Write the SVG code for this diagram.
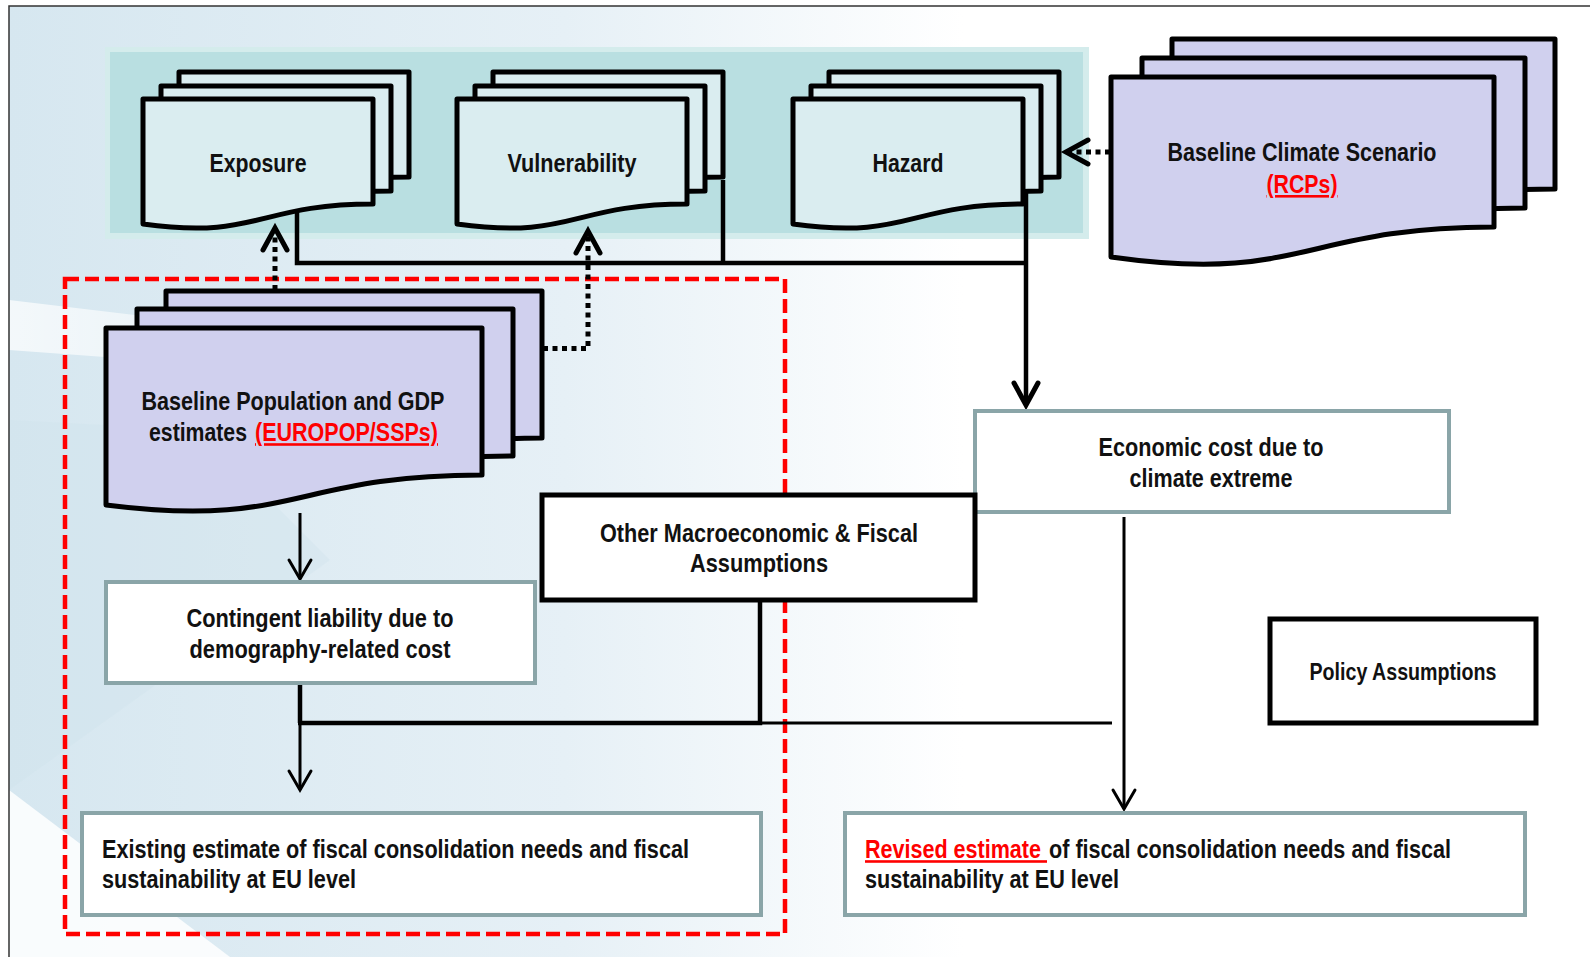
<svg xmlns="http://www.w3.org/2000/svg" xmlns:xlink="http://www.w3.org/1999/xlink" width="1590" height="957" viewBox="0 0 1590 957">
  <style>
    .t { font-family: "Liberation Sans Narrow", "Arial Narrow", "Liberation Sans", sans-serif; font-weight: bold; font-size: 26px; fill: #111; }
    .s { font-size: 21.3px; }
    .c { text-anchor: middle; }
    .red { fill: #ff0000; text-decoration: underline; }
    .docT { fill: #daedf0; stroke: #000; stroke-width: 5; stroke-linejoin: round; }
    .docL { fill: #d0d0ee; stroke: #000; stroke-width: 5; stroke-linejoin: round; }
    .boxG { fill: #fff; stroke: #8aa5a8; stroke-width: 4; }
    .boxK { fill: #fff; stroke: #000; stroke-width: 5; }
    .ln { fill: none; stroke: #000; stroke-linejoin: miter; }
    .thick { stroke-width: 4.5; }
    .thin { stroke-width: 3; }
    .dot { fill: none; stroke: #000; stroke-width: 5; stroke-dasharray: 5 4.5; }
  </style>
  <defs>
    <linearGradient id="bg" x1="0" y1="0" x2="1" y2="0">
      <stop offset="0" stop-color="#d6e7f0"/>
      <stop offset="0.35" stop-color="#e6f0f6"/>
      <stop offset="0.6" stop-color="#ffffff"/>
    </linearGradient>
    <linearGradient id="band" x1="0" y1="0" x2="1" y2="0">
      <stop offset="0" stop-color="#ffffff" stop-opacity="0.9"/>
      <stop offset="1" stop-color="#ffffff" stop-opacity="0"/>
    </linearGradient>
    <filter id="shadow" x="-10%" y="-200%" width="120%" height="500%">
      <feDropShadow dx="2" dy="3" stdDeviation="2" flood-color="#000" flood-opacity="0.35"/>
    </filter>
    <path id="dT" d="M0,0 H230 V105 C115,105 115,141 0,125 Z"/>
    <path id="dBCS" d="M0,0 H383 V150 C191.5,150 191.5,207 0,180 Z"/>
    <path id="dBPG" d="M0,0 H376 V147 C188,147 188,201 0,177 Z"/>
    <marker id="aBig" markerUnits="userSpaceOnUse" markerWidth="40" markerHeight="40" viewBox="-30 -20 40 40" refX="0" refY="0" orient="auto" overflow="visible">
      <path d="M-22,-12 L0,0 L-22,12" fill="none" stroke="#000" stroke-width="5" stroke-linecap="round" stroke-linejoin="miter"/>
    </marker>
    <marker id="aThin" markerUnits="userSpaceOnUse" markerWidth="40" markerHeight="40" viewBox="-30 -20 40 40" refX="0" refY="0" orient="auto" overflow="visible">
      <path d="M-19,-11 L0,0 L-19,11" fill="none" stroke="#000" stroke-width="3" stroke-linecap="round"/>
    </marker>
  </defs>

  <!-- background -->
  <rect x="0" y="0" width="1590" height="957" fill="#ffffff"/>
  <rect x="9" y="6" width="1590" height="960" fill="url(#bg)"/>
  <polygon points="9,300 260,330 560,390 9,350" fill="url(#band)" opacity="0.8"/>
  <polygon points="9,420 200,430 330,560 9,790" fill="#cfe2ec" opacity="0.35"/>
  <polygon points="9,790 9,957 230,957" fill="#ffffff" opacity="0.85"/>
  <path d="M9,957 V6 H1590" fill="none" stroke="#333" stroke-width="1.5"/>

  <!-- teal band -->
  <rect x="105" y="47" width="984" height="192" fill="#d4ecec"/>
  <rect x="110" y="52" width="973" height="181" fill="#b9dfe1"/>

  <!-- red dashed group -->
  <rect x="65" y="279" width="720" height="655" fill="none" stroke="#ff0000" stroke-width="4.5" stroke-dasharray="14 6"/>

  <!-- connectors -->
  <g id="connectors">
    <polyline class="ln thick" points="297,208 297,263 1026,263"/>
    <line class="ln thick" x1="723" y1="180" x2="723" y2="263"/>
    <line class="ln thick" x1="1026" y1="192" x2="1026" y2="405" marker-end="url(#aBig)"/>
    <line class="dot" x1="1110" y1="152" x2="1066" y2="152" marker-end="url(#aBig)"/>
    <line class="dot" x1="275" y1="290" x2="275" y2="228" marker-end="url(#aBig)"/>
    <polyline class="dot" points="543,348.5 588,348.5 588,231" marker-end="url(#aBig)"/>
    <line class="ln thin" x1="300" y1="513" x2="300" y2="579" marker-end="url(#aThin)"/>
    <line class="ln thick" x1="300" y1="683" x2="300" y2="723"/>
    <line class="ln thin" x1="300" y1="723" x2="300" y2="790" marker-end="url(#aThin)"/>
    <polyline class="ln thick" points="760,600 760,723 298,723"/>
    <line class="ln thin" x1="760" y1="723" x2="1112" y2="723"/>
    <line class="ln thin" x1="1124" y1="517" x2="1124" y2="809" marker-end="url(#aThin)"/>
    <line class="ln thin" x1="1269" y1="672" x2="1126" y2="672" marker-end="url(#aThin)" filter="url(#shadow)"/>
  </g>

  <!-- nodes -->
  <g id="exposure">
    <use href="#dT" x="179" y="72" class="docT"/>
    <use href="#dT" x="161" y="86" class="docT"/>
    <use href="#dT" x="143" y="99" class="docT"/>
    <text class="t c" x="258" y="172" textLength="97" lengthAdjust="spacingAndGlyphs">Exposure</text>
  </g>
  <g id="vulnerability">
    <use href="#dT" x="493" y="72" class="docT"/>
    <use href="#dT" x="475" y="86" class="docT"/>
    <use href="#dT" x="457" y="99" class="docT"/>
    <text class="t c" x="572" y="172" textLength="129" lengthAdjust="spacingAndGlyphs">Vulnerability</text>
  </g>
  <g id="hazard">
    <use href="#dT" x="829" y="72" class="docT"/>
    <use href="#dT" x="811" y="86" class="docT"/>
    <use href="#dT" x="793" y="99" class="docT"/>
    <text class="t c" x="908" y="172" textLength="71" lengthAdjust="spacingAndGlyphs">Hazard</text>
  </g>
  <g id="climate-scenario">
    <use href="#dBCS" x="1172" y="39" class="docL"/>
    <use href="#dBCS" x="1142" y="58" class="docL"/>
    <use href="#dBCS" x="1111" y="77" class="docL"/>
    <text class="t c" x="1302" y="161" textLength="269" lengthAdjust="spacingAndGlyphs">Baseline Climate Scenario</text>
    <text class="t c red" x="1302" y="193" textLength="71" lengthAdjust="spacingAndGlyphs">(RCPs)</text>
  </g>
  <g id="population-gdp">
    <use href="#dBPG" x="166" y="291" class="docL"/>
    <use href="#dBPG" x="137" y="309" class="docL"/>
    <use href="#dBPG" x="106" y="328" class="docL"/>
    <text class="t c" x="293" y="410" textLength="303" lengthAdjust="spacingAndGlyphs">Baseline Population and GDP</text>
    <text class="t s" transform="translate(149,441) scale(1,1.22)" x="0" y="0" textLength="98" lengthAdjust="spacingAndGlyphs">estimates</text>
    <text class="t s red" transform="translate(255,441) scale(1,1.22)" x="0" y="0" textLength="183" lengthAdjust="spacingAndGlyphs">(EUROPOP/SSPs)</text>
  </g>
  <g id="economic-cost">
    <rect class="boxG" x="975" y="411" width="474" height="101"/>
    <text class="t c" x="1211" y="456" textLength="225" lengthAdjust="spacingAndGlyphs">Economic cost due to</text>
    <text class="t c" x="1211" y="487" textLength="163" lengthAdjust="spacingAndGlyphs">climate extreme</text>
  </g>
  <g id="other-macro">
    <rect class="boxK" x="542" y="495" width="433" height="105"/>
    <text class="t c" x="759" y="542" textLength="318" lengthAdjust="spacingAndGlyphs">Other Macroeconomic &amp; Fiscal</text>
    <text class="t c" x="759" y="572" textLength="138" lengthAdjust="spacingAndGlyphs">Assumptions</text>
  </g>
  <g id="contingent">
    <rect class="boxG" x="106" y="582" width="429" height="101"/>
    <text class="t c" x="320" y="627" textLength="267" lengthAdjust="spacingAndGlyphs">Contingent liability due to</text>
    <text class="t c" x="320" y="658" textLength="261" lengthAdjust="spacingAndGlyphs">demography-related cost</text>
  </g>
  <g id="policy">
    <rect class="boxK" x="1270" y="619" width="266" height="104"/>
    <text class="t c" x="1403" y="680" style="font-size:24px" textLength="187" lengthAdjust="spacingAndGlyphs">Policy Assumptions</text>
  </g>
  <g id="existing">
    <rect class="boxG" x="82" y="813" width="679" height="102"/>
    <text class="t" x="102" y="858" textLength="587" lengthAdjust="spacingAndGlyphs">Existing estimate of fiscal consolidation needs and fiscal</text>
    <text class="t" x="102" y="888" textLength="254" lengthAdjust="spacingAndGlyphs">sustainability at EU level</text>
  </g>
  <g id="revised">
    <rect class="boxG" x="845" y="813" width="680" height="102"/>
    <text class="t s red" transform="translate(865,858) scale(1,1.22)" x="0" y="0" textLength="182" lengthAdjust="spacingAndGlyphs" xml:space="preserve">Revised estimate </text>
    <text class="t" x="1049" y="858" textLength="402" lengthAdjust="spacingAndGlyphs">of fiscal consolidation needs and fiscal</text>
    <text class="t" x="865" y="888" textLength="254" lengthAdjust="spacingAndGlyphs">sustainability at EU level</text>
  </g>
</svg>
